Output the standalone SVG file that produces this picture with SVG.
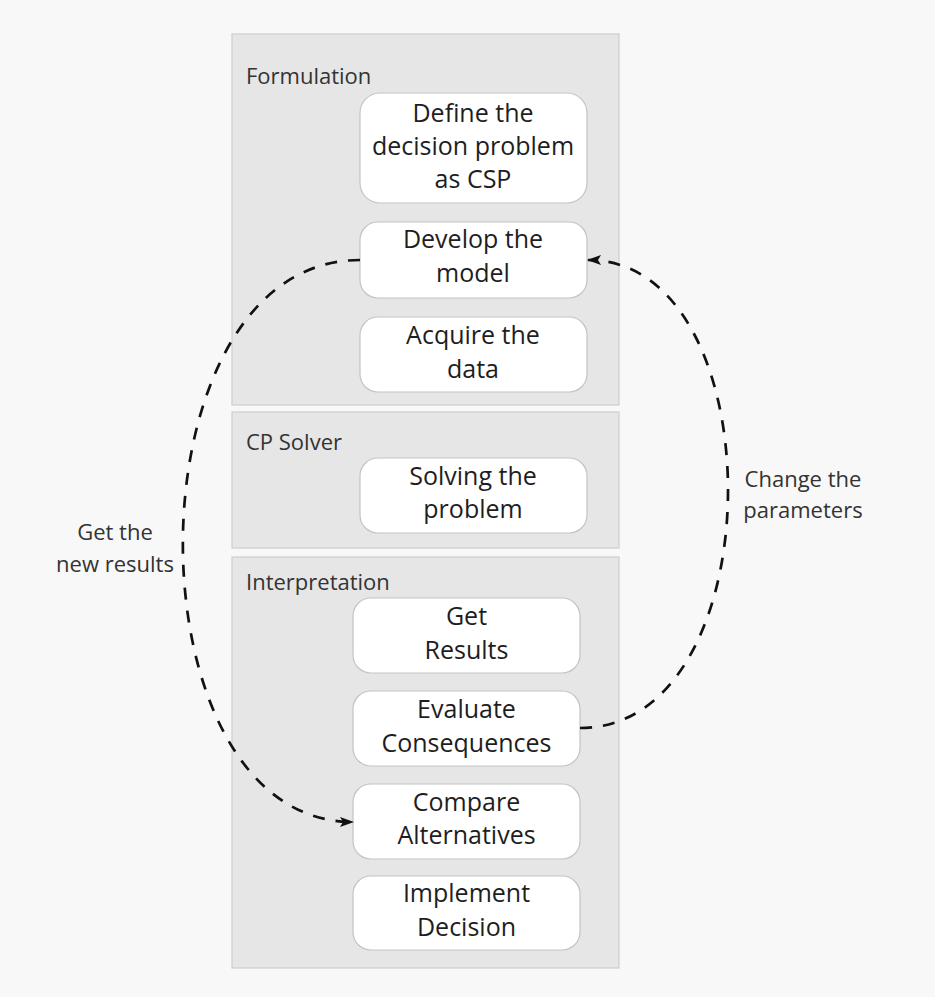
<svg xmlns="http://www.w3.org/2000/svg" width="935" height="997" viewBox="0 0 935 997">
  <style>
    .panel { fill: #e6e6e6; stroke: #cdcdcd; stroke-width: 1.2; }
    .plabel { font-family: "Open Sans", "Noto Sans", sans-serif; font-size: 22px; fill: #333333; }
    .node rect { fill: #ffffff; stroke: #c4c4c4; stroke-width: 1.2; }
    .node text { font-family: "Open Sans", "Noto Sans", sans-serif; font-size: 25px; fill: #1e1e1e; text-anchor: middle; }
    .edge { fill: none; stroke: #111111; stroke-width: 2.7; stroke-dasharray: 12 11; }
    .elabel { font-family: "Open Sans", "Noto Sans", sans-serif; font-size: 22px; fill: #333333; text-anchor: middle; }
  </style>
  <defs>
    <marker id="arrow" markerUnits="userSpaceOnUse" markerWidth="14" markerHeight="12" viewBox="0 0 14 12" refX="13" refY="6" orient="auto">
      <path d="M0,1 L14,6 L0,11 L3,6 Z" fill="#111111"/>
    </marker>
  </defs>

  <rect x="0" y="0" width="935" height="997" fill="#f8f8f8"/>

  <!-- swimlane panels -->
  <g id="lane-formulation">
    <rect class="panel" x="232" y="34" width="387" height="371"/>
    <text class="plabel" x="246" y="84">Formulation</text>
  </g>
  <g id="lane-solver">
    <rect class="panel" x="232" y="412" width="387" height="136"/>
    <text class="plabel" x="246" y="450">CP Solver</text>
  </g>
  <g id="lane-interpretation">
    <rect class="panel" x="232" y="557" width="387" height="411"/>
    <text class="plabel" x="246" y="590">Interpretation</text>
  </g>

  <!-- steps -->
  <g id="define" class="node">
    <rect x="360" y="93" width="227" height="110" rx="20"/>
    <text x="473" y="122">Define the</text>
    <text x="473" y="155">decision problem</text>
    <text x="473" y="188">as CSP</text>
  </g>
  <g id="develop" class="node">
    <rect x="360" y="222" width="227" height="76" rx="18"/>
    <text x="473" y="248">Develop the</text>
    <text x="473" y="282">model</text>
  </g>
  <g id="acquire" class="node">
    <rect x="360" y="317" width="227" height="75" rx="18"/>
    <text x="473" y="344">Acquire the</text>
    <text x="473" y="378">data</text>
  </g>
  <g id="solve" class="node">
    <rect x="360" y="458" width="227" height="75" rx="18"/>
    <text x="473" y="485">Solving the</text>
    <text x="473" y="518">problem</text>
  </g>
  <g id="results" class="node">
    <rect x="353" y="598" width="227" height="75" rx="18"/>
    <text x="466.5" y="625">Get</text>
    <text x="466.5" y="659">Results</text>
  </g>
  <g id="evaluate" class="node">
    <rect x="353" y="691" width="227" height="75" rx="18"/>
    <text x="466.5" y="718">Evaluate</text>
    <text x="466.5" y="752">Consequences</text>
  </g>
  <g id="compare" class="node">
    <rect x="353" y="784" width="227" height="75" rx="18"/>
    <text x="466.5" y="811">Compare</text>
    <text x="466.5" y="844">Alternatives</text>
  </g>
  <g id="implement" class="node">
    <rect x="353" y="876" width="227" height="74" rx="18"/>
    <text x="466.5" y="902">Implement</text>
    <text x="466.5" y="936">Decision</text>
  </g>

  <!-- feedback loops -->
  <g id="connectors">
    <path class="edge" d="M360,260 C125,260 125,822 353,822" marker-end="url(#arrow)"/>
    <path class="edge" d="M580,728 C776,728 776,260 588,260" marker-end="url(#arrow)"/>
    <text class="elabel" x="115" y="540">Get the</text>
    <text class="elabel" x="115" y="572">new results</text>
    <text class="elabel" x="803" y="487">Change the</text>
    <text class="elabel" x="803" y="518">parameters</text>
  </g>
</svg>
